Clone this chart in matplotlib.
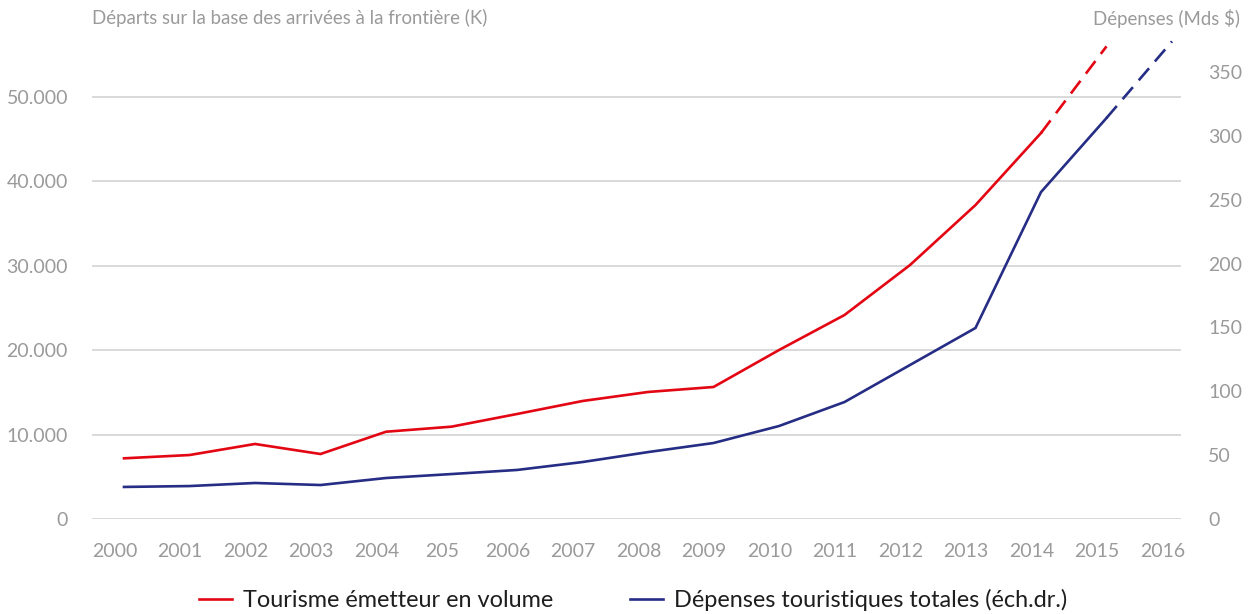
import matplotlib
matplotlib.use("Agg")
import matplotlib.pyplot as plt
import numpy as np

plt.rcParams["font.family"] = ["Lato", "DejaVu Sans"]

# --- data ---
years = ["2000", "2001", "2002", "2003", "2004", "205", "2006", "2007", "2008",
         "2009", "2010", "2011", "2012", "2013", "2014", "2015", "2016"]

# outbound tourism volume, K departures (left axis); 2015 is a projection
volume = [7190, 7580, 8890, 7700, 10340, 10940, 12440, 13980, 15050,
          15640, 20020, 24170, 30090, 37200, 45730]
volume_proj = [45730, 56000]

# total tourism spending, bn $ (right axis); 2016 is a projection
spending = [25.1, 25.8, 28.2, 26.6, 32.1, 35.2, 38.4, 44.6, 52.4,
            59.5, 72.8, 91.6, 120.6, 149.6, 256, 314]
spending_proj = [314, 374]

left_ticks = [0, 10000, 20000, 30000, 40000, 50000]
left_labels = ["0", "10.000", "20.000", "30.000", "40.000", "50.000"]
right_ticks = [0, 50, 100, 150, 200, 250, 300, 350]

RED = "#E30613"
BLUE = "#262D84"
GRID = "#CFCFCF"
TICK = "#9A9A9A"

fig = plt.figure(figsize=(12.51, 6.14), dpi=100)
ax = fig.add_axes([92 / 1251, 95 / 614, 1089 / 1251, 489 / 614])
ax2 = ax.twinx()

x = np.arange(len(years))
n_vol = len(volume)
n_sp = len(spending)

ax.plot(x[:n_vol], volume, color=RED, lw=1.9, solid_joinstyle="miter", zorder=3)
ax.plot(x[n_vol - 1:n_vol + 1], volume_proj, color=RED, lw=1.9,
        dashes=(6, 3.4), zorder=3, clip_on=False)
ax2.plot(x[:n_sp], spending, color=BLUE, lw=1.9, solid_joinstyle="miter", zorder=3)
ax2.plot(x[n_sp - 1:n_sp + 1], spending_proj, color=BLUE, lw=1.9,
         dashes=(6, 3.4), zorder=3, clip_on=False)

ax.set_xlim(-32 / 65.5, (1181 - 124) / 65.5)
ax.set_ylim(0, 489 / 84.4 * 10000)
ax2.set_ylim(0, 489 / 1.277)

ax.set_yticks(left_ticks)
ax.set_yticklabels(left_labels)
ax2.set_yticks(right_ticks)
ax2.set_yticklabels([str(t) for t in right_ticks])

# year labels sit a bit left of the data points in the original
ax.set_xticks(x - 0.145)
ax.set_xticklabels(years)

ax.grid(axis="y", color=GRID, lw=1.1)
ax.set_axisbelow(True)
for a in (ax, ax2):
    for s in a.spines.values():
        s.set_visible(False)
    a.tick_params(length=0, labelsize=14, labelcolor=TICK)
ax.tick_params(axis="y", pad=17.3)
ax2.tick_params(axis="y", pad=19.5)
ax.tick_params(axis="x", pad=17.5)

fig.text(92 / 1251, 1 - 18 / 614, "Départs sur la base des arrivées à la frontière (K)",
         fontsize=13.4, color=TICK, ha="left", va="center")
fig.text(1240 / 1251, 1 - 18 / 614, "Dépenses (Mds $)",
         fontsize=13.4, color=TICK, ha="right", va="center")

h1, = ax.plot([], [], color=RED, lw=1.9)
h2, = ax.plot([], [], color=BLUE, lw=1.9)
fig.legend([h1, h2], ["Tourisme émetteur en volume", "Dépenses touristiques totales (éch.dr.)"],
           loc="center", bbox_to_anchor=(633 / 1251, 14 / 614), ncol=2, frameon=False,
           fontsize=16.9, handlelength=1.4, handletextpad=0.45, columnspacing=3.3,
           labelcolor="#1E1E1E")

fig.savefig("out.png", dpi=100)
